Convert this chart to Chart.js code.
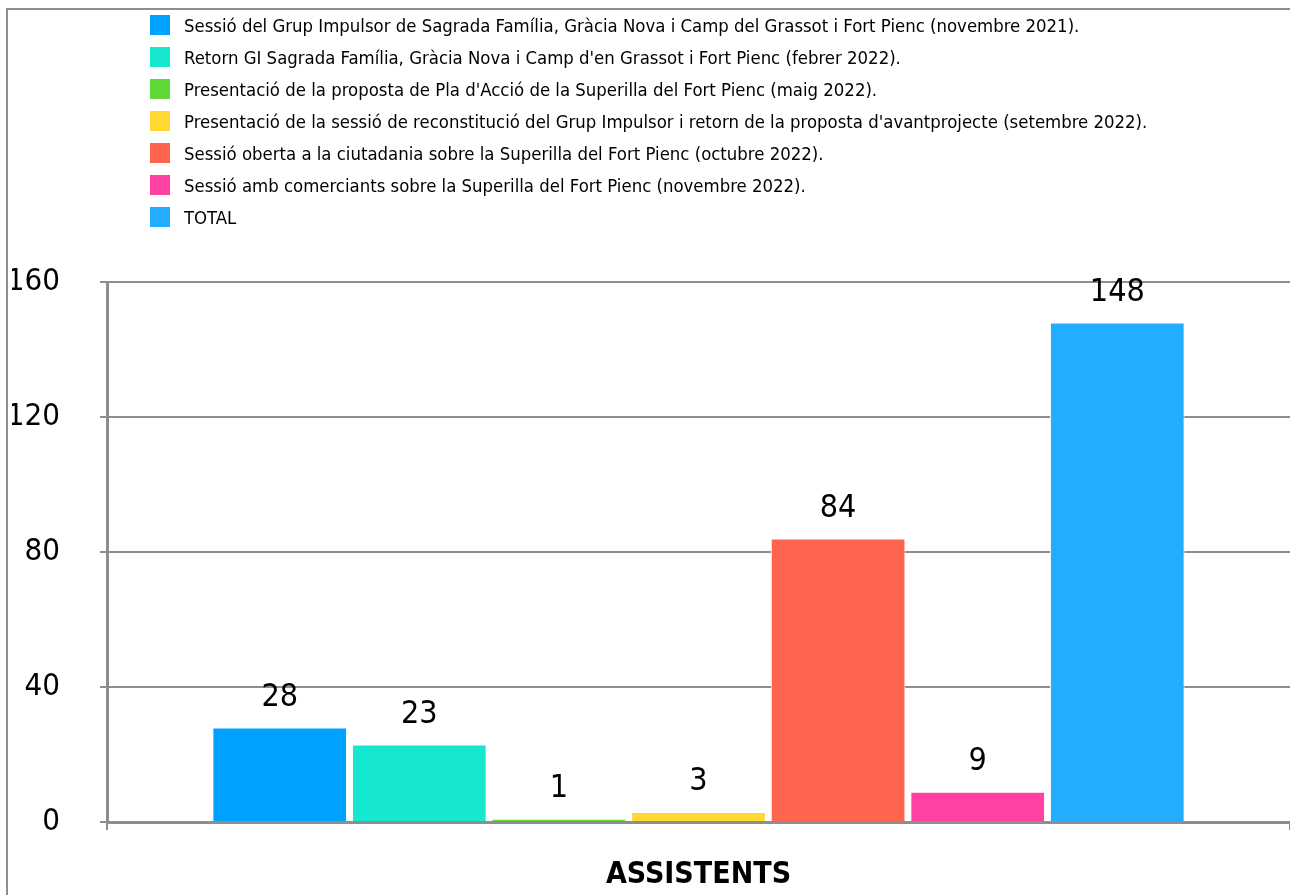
<!DOCTYPE html>
<html>
<head>
<meta charset="utf-8">
<script src="https://cdn.jsdelivr.net/npm/chart.js@4.4.1/dist/chart.umd.min.js"></script>
<style>
    body {
        margin: 0;
        background: #fff;
        width: 1290px;
        height: 895px;
        overflow: hidden;
        position: relative;
        font-family: "Liberation Sans Narrow", "DejaVu Sans Condensed", sans-serif;
    }
    #frame {
        position: absolute;
        left: 6px;
        top: 8px;
        width: 1300px;
        height: 900px;
        border: 2px solid #8e8e8e;
    }
    canvas {
        position: absolute;
        left: 0;
        top: 0;
    }
    #legend {
        position: absolute;
        left: 150px;
        top: 9px;
        margin: 0;
        padding: 0;
        list-style: none;
    }
    #legend li {
        height: 32px;
        display: flex;
        align-items: center;
        font-size: 18.4px;
        color: #000;
        white-space: nowrap;
    }
    #legend span {
        width: 20px;
        height: 20px;
        margin-right: 14px;
        flex: none;
    }
</style>
</head>
<body>
<div id="frame"></div>
<canvas id="chart" width="1290" height="895"></canvas>
<ul id="legend"></ul>
<script>
const FONT = '"Liberation Sans Narrow", "DejaVu Sans Condensed", sans-serif'
const GRAY = '#8e8e8e'

const categories = ['ASSISTENTS']
const sessions = [
    'Sessió del Grup Impulsor de Sagrada Família, Gràcia Nova i Camp del Grassot i Fort Pienc (novembre 2021).',
    'Retorn GI Sagrada Família, Gràcia Nova i Camp d\'en Grassot i Fort Pienc (febrer 2022).',
    'Presentació de la proposta de Pla d\'Acció de la Superilla del Fort Pienc (maig 2022).',
    'Presentació de la sessió de reconstitució del Grup Impulsor i retorn de la proposta d\'avantprojecte (setembre 2022).',
    'Sessió oberta a la ciutadania sobre la Superilla del Fort Pienc (octubre 2022).',
    'Sessió amb comerciants sobre la Superilla del Fort Pienc (novembre 2022).',
    'TOTAL'
]
const attendees = [28, 23, 1, 3, 84, 9, 148]
const colors = ['#00a2ff', '#16e7cf', '#61d836', '#ffd932', '#ff644e', '#ff42a1', '#22adff']
const yTicks = [0, 40, 80, 120, 160]

// numbers above each bar
const value_labels = {
    'id': 'value_labels',
    afterDatasetsDraw(chart) {
        let ctx = chart.ctx
        ctx.save()
        ctx.font = '32px ' + FONT
        ctx.fillStyle = '#000'
        ctx.textAlign = 'center'
        ctx.textBaseline = 'middle'
        chart.data.datasets.forEach((ds, i) => {
            chart.getDatasetMeta(i).data.forEach((bar, j) => {
                ctx.fillText(ds.data[j], bar.x, bar.y - 30)
            })
        })
        ctx.restore()
    }
}

let datasets = sessions.map((name, i) => ({
    'label': name,
    'data': [attendees[i]],
    'backgroundColor': colors[i],
    'borderColor': '#ffffff',
    'borderWidth': 1,
    'barPercentage': 0.965,
    'categoryPercentage': 0.826
}))

let chart = new Chart(document.getElementById('chart').getContext('2d'), {
    'type': 'bar',
    'data': {
        'labels': categories,
        'datasets': datasets
    },
    'options': {
        'responsive': false,
        'animation': false,
        'layout': {
            'padding': {'top': 282, 'left': 12, 'right': 0, 'bottom': 0}
        },
        'plugins': {
            'legend': {'display': false},
            'tooltip': {'enabled': false}
        },
        'scales': {
            'x': {
                'afterFit': axis => { axis.height = 73 },
                'ticks': {
                    'color': '#000',
                    'padding': 27,
                    'font': {'family': FONT, 'size': 30, 'weight': 'bold'}
                },
                'grid': {
                    'drawOnChartArea': false,
                    'drawTicks': true,
                    'tickLength': 8,
                    'color': GRAY,
                    'lineWidth': 2
                },
                'border': {'color': GRAY, 'width': 3}
            },
            'y': {
                'min': yTicks[0],
                'max': yTicks[yTicks.length - 1],
                'afterBuildTicks': axis => { axis.ticks = yTicks.map(v => ({'value': v})) },
                'afterFit': axis => { axis.width = 95 },
                'ticks': {
                    'color': '#000',
                    'padding': 40,
                    'font': {'family': FONT, 'size': 31}
                },
                'grid': {
                    'color': GRAY,
                    'lineWidth': 2,
                    'tickLength': 7
                },
                'border': {'color': GRAY, 'width': 3}
            }
        }
    },
    'plugins': [value_labels]
})

// legend as one column, built from the chart datasets
let legend = document.getElementById('legend')
chart.data.datasets.forEach(ds => {
    let li = document.createElement('li')
    let box = document.createElement('span')
    box.style.background = ds.backgroundColor
    li.appendChild(box)
    li.appendChild(document.createTextNode(ds.label))
    legend.appendChild(li)
})
</script>
</body>
</html>
